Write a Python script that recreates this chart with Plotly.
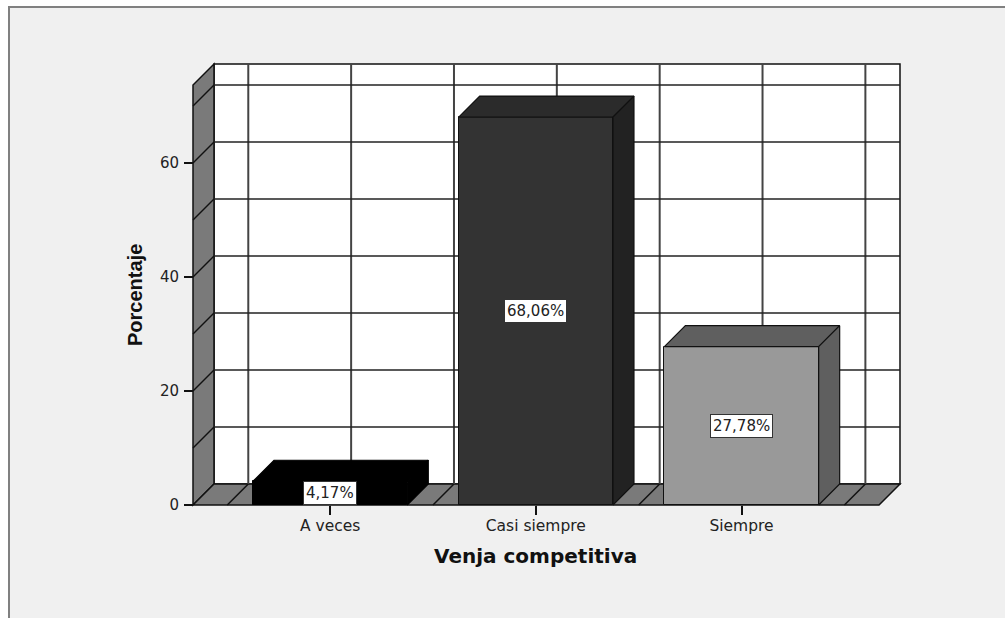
import plotly.graph_objects as go

categories = ["A veces", "Casi siempre", "Siempre"]
percent = [4.17, 68.06, 27.78]
y_ticks = [0, 20, 40, 60]
y_gridlines = [10, 20, 30, 40, 50, 60, 70]
x_gridlines = [-0.5, 0, 0.5, 1, 1.5, 2, 2.5]
x_title = "Venja competitiva"
y_title = "Porcentaje"

front_colors = ["#000000", "#333333", "#999999"]
side_colors = ["#000000", "#222222", "#5f5f5f"]
top_colors = ["#000000", "#2b2b2b", "#5f5f5f"]
edge_colors = ["#000000", "#111111", "#111111"]

WIDTH, HEIGHT = 1005, 618
PX_X, PX_Y = 205.7, 5.7           # pixels per axis unit
L, R, T, B = 193, 900, 64, 505    # axes box including depth
PAD = 3
DEPTH = 21
DX, DY = DEPTH / PX_X, DEPTH / PX_Y
BAR_W = 0.75
X0 = -2 / 3
X1 = X0 + (R - L - DEPTH) / PX_X
Y1 = (B - T - DEPTH) / PX_Y
plot_w = R - L + 2 * PAD
plot_h = B - T + 2 * PAD
INK = "#111111"
WALL = "#7a7a7a"
BG = "#f0f0f0"
TXT = "#222222"


def poly(xs, ys):
    pts = list(zip(xs, ys))
    return "M" + " L".join(f"{a},{b}" for a, b in pts) + " Z"


shapes = [
    dict(type="rect", xref="paper", yref="paper", layer="below",
         x0=(9 - (L - PAD)) / plot_w, x1=(WIDTH + 20 - (L - PAD)) / plot_w,
         y0=((B + PAD) - (HEIGHT + 20)) / plot_h, y1=((B + PAD) - 7) / plot_h,
         fillcolor=BG, line=dict(color="#808080", width=2)),
    # back wall
    dict(type="rect", xref="x", yref="y", layer="below",
         x0=X0 + DX, x1=X1 + DX, y0=DY, y1=Y1 + DY,
         fillcolor="#ffffff", line=dict(color=INK, width=1.5)),
    # left wall
    dict(type="path", xref="x", yref="y", layer="below",
         path=poly([X0, X0, X0 + DX, X0 + DX], [0, Y1, Y1 + DY, DY]),
         fillcolor=WALL, line=dict(color=INK, width=1.5)),
    # floor
    dict(type="path", xref="x", yref="y", layer="below",
         path=poly([X0, X1, X1 + DX, X0 + DX], [0, 0, DY, DY]),
         fillcolor=WALL, line=dict(color=INK, width=1.5)),
]
for g in x_gridlines:
    shapes.append(dict(type="line", xref="x", yref="y", layer="below",
                       x0=g + DX, x1=g + DX, y0=DY, y1=Y1 + DY,
                       line=dict(color="#444444", width=2)))
    shapes.append(dict(type="line", xref="x", yref="y", layer="below",
                       x0=g, x1=g + DX, y0=0, y1=DY,
                       line=dict(color=INK, width=1.5)))
for g in y_gridlines:
    shapes.append(dict(type="line", xref="x", yref="y", layer="below",
                       x0=X0 + DX, x1=X1 + DX, y0=g + DY, y1=g + DY,
                       line=dict(color="#222222", width=1.4)))
    shapes.append(dict(type="line", xref="x", yref="y", layer="below",
                       x0=X0, x1=X0 + DX, y0=g, y1=g + DY,
                       line=dict(color=INK, width=1.5)))

fig = go.Figure()
fig.add_trace(go.Bar(
    x=list(range(len(categories))), y=percent, width=BAR_W,
    marker=dict(color=front_colors, line=dict(color=edge_colors, width=1)),
    hoverinfo="skip", showlegend=False))

for i, v in enumerate(percent):
    a, b = i - BAR_W / 2, i + BAR_W / 2
    fig.add_trace(go.Scatter(
        x=[a, b, b + DX, a + DX, a], y=[v, v, v + DY, v + DY, v],
        mode="lines", fill="toself", fillcolor=top_colors[i],
        line=dict(color=edge_colors[i], width=1.2), hoverinfo="skip", showlegend=False))
    fig.add_trace(go.Scatter(
        x=[b, b + DX, b + DX, b, b], y=[0, DY, v + DY, v, 0],
        mode="lines", fill="toself", fillcolor=side_colors[i],
        line=dict(color=edge_colors[i], width=1.2), hoverinfo="skip", showlegend=False))

annotations = [
    dict(x=i, y=v / 2, xref="x", yref="y", showarrow=False,
         text=f"{v:.2f}".replace(".", ",") + "%",
         font=dict(family="DejaVu Sans", size=15, color=TXT),
         bgcolor="#ffffff", bordercolor="#333333", borderwidth=1, borderpad=2)
    for i, v in enumerate(percent)
]
annotations.append(dict(x=1, xref="x", y=((B + PAD) - 556) / plot_h, yref="paper",
                        yanchor="middle", showarrow=False, text=x_title,
                        font=dict(family="DejaVu Sans", size=20, color="#111111", weight="bold")))
annotations.append(dict(x=(135 - (L - PAD)) / plot_w, xref="paper", xanchor="center",
                        y=Y1 / 2, yref="y", showarrow=False, textangle=-90, text=y_title,
                        font=dict(family="Liberation Sans", size=20, color="#111111", weight="bold")))

fig.update_layout(
    width=WIDTH, height=HEIGHT,
    margin=dict(l=L - PAD, r=WIDTH - R - PAD, t=T - PAD, b=HEIGHT - B - PAD, pad=0),
    paper_bgcolor="#ffffff", plot_bgcolor="rgba(0,0,0,0)",
    shapes=shapes, annotations=annotations, showlegend=False, bargap=0,
    xaxis=dict(range=[X0 - PAD / PX_X, X1 + DX + PAD / PX_X],
               tickmode="array", tickvals=list(range(len(categories))), ticktext=categories,
               ticks="outside", ticklen=9, tickwidth=1.5, tickcolor=INK, ticklabelstandoff=-3,
               tickfont=dict(family="DejaVu Sans", size=15.5, color=TXT),
               showgrid=False, zeroline=False, showline=False,
               anchor="free", position=PAD / plot_h),
    yaxis=dict(range=[-PAD / PX_Y, Y1 + DY + PAD / PX_Y],
               tickmode="array", tickvals=y_ticks,
               ticks="outside", ticklen=9, tickwidth=1.5, tickcolor=INK, ticklabelstandoff=2,
               tickfont=dict(family="DejaVu Sans", size=15, color=TXT),
               showgrid=False, zeroline=False, showline=False,
               anchor="free", position=PAD / plot_w),
)

fig.write_html("out.html", config=dict(displayModeBar=False),
               post_script="document.body.style.margin='0';document.body.style.overflow='hidden';")
